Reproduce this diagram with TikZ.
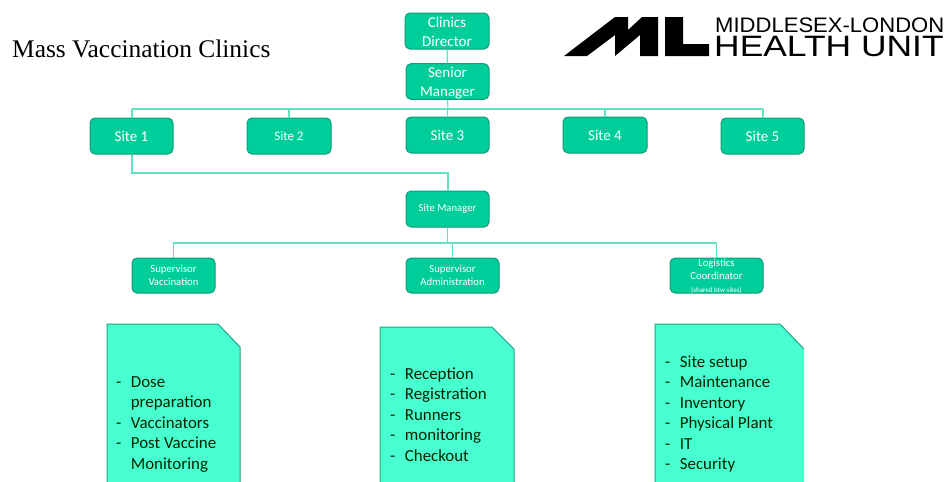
\documentclass[tikz,border=0pt]{standalone}
\usepackage{graphicx}
\usepackage{fontspec}
\setmainfont{Carlito}
\newfontfamily\titlefont{Liberation Serif}
\newfontfamily\logofont{Liberation Sans}
\definecolor{boxfill}{HTML}{00CE9A}
\definecolor{boxline}{HTML}{0F9C7A}
\definecolor{wire}{HTML}{5FE3C0}
\definecolor{notefill}{HTML}{48FFCF}
\definecolor{noteline}{HTML}{1FA585}
\tikzset{
  orgbox/.style={draw=boxline,fill=boxfill,line width=1pt,rounded corners=5pt,text=white,align=center,inner sep=0pt,font=\fontsize{15}{19}\selectfont},
  smallbox/.style={orgbox,font=\fontsize{10.7}{13}\selectfont},
  wirel/.style={draw=wire,line width=1.1pt},
  noteshape/.style={fill=notefill,draw=noteline,line width=1pt},
  notetext/.style={anchor=west,inner sep=0pt,text=black!85!green,font=\fontsize{16.9}{20.5}\selectfont},
}
\newcommand{\dashlist}[1]{\begin{tabular}{@{}l@{\hspace{9.5pt}}l@{}}#1\end{tabular}}
\begin{document}
\begin{tikzpicture}[x=1pt,y=-1pt]
\useasboundingbox (0,0) rectangle (948,482);
\fill[white] (0,0) rectangle (948,482);
% connectors
\coordinate (busL) at (132,109);
\coordinate (busR) at (763,109);
\node[orgbox,minimum width=84pt,minimum height=36pt] (director) at (447,31) {\rule{0pt}{13pt}Clinics\\Director};
\node[orgbox,minimum width=83pt,minimum height=35pt] (senior) at (447.5,81.5) {\rule{0pt}{14pt}Senior\\Manager};
\node[orgbox,minimum width=83pt,minimum height=36pt] (site1) at (131.5,136) {Site 1};
\node[orgbox,font=\fontsize{13}{15}\selectfont,minimum width=84pt,minimum height=36pt] (site2) at (289,136) {Site 2};
\node[orgbox,minimum width=83pt,minimum height=36pt] (site3) at (447.5,135) {Site 3};
\node[orgbox,minimum width=84pt,minimum height=36pt] (site4) at (605,135) {Site 4};
\node[orgbox,minimum width=83pt,minimum height=36pt] (site5) at (762.5,136) {Site 5};
\node[smallbox,minimum width=83pt,minimum height=36pt] (manager) at (447.5,209) {Site Manager};
\node[smallbox,minimum width=83pt,minimum height=35pt] (supvac) at (173.5,275.5) {Supervisor\\Vaccination};
\node[smallbox,minimum width=93pt,minimum height=35pt] (supadm) at (452.5,275.5) {Supervisor\\Administration};
\node[smallbox,minimum width=93pt,minimum height=35pt] (logist) at (716.5,275.5) {\rule{0pt}{8pt}Logistics\\Coordinator\\{\fontsize{7}{8}\selectfont (shared btw sites)}};
\draw[wirel] (director) -- (senior);
\draw[wirel] (senior.south) -- (448,109);
\draw[wirel] (busL) -- (busR);
\draw[wirel] (busL) -- (busL |- site1.north);
\draw[wirel] (site2.north |- busL) -- (site2.north);
\draw[wirel] (site3.north |- busL) -- (site3.north);
\draw[wirel] (site4.north |- busL) -- (site4.north);
\draw[wirel] (busR) -- (site5.north -| busR);
\coordinate (jog1) at (132,173);
\coordinate (jog2) at (448,173);
\draw[wirel] (jog1 |- site1.south) -- (jog1) -- (jog2) -- (jog2 |- manager.north);
\coordinate (bus2) at (447.5,243);
\draw[wirel] (manager.south) -- (bus2);
\draw[wirel] (supvac.north) -- (supvac.north |- bus2) -- (logist.north |- bus2) -- (logist.north);
\draw[wirel] (supadm.north |- bus2) -- (supadm.north);
% notes
\path[noteshape] (107,483) -- (107,324) -- (218,324) -- (240,347) -- (240,483);
\path[noteshape] (380,483) -- (380,327) -- (492,327) -- (514,349) -- (514,483);
\fill[notefill] (655,483) -- (655,324) -- (780,324) -- (804,349) -- (804,483) -- cycle;
\draw[noteshape,fill=none] (655,483) -- (655,324) -- (780,324) -- (804,349);
\node[notetext] (list1) at (116,424) {\dashlist{-&Dose\\&preparation\\-&Vaccinators\\-&Post Vaccine\\&Monitoring}};
\node[notetext] (list2) at (390,416) {\dashlist{-&Reception\\-&Registration\\-&Runners\\-&monitoring\\-&Checkout}};
\node[notetext] (list3) at (665,414.5) {\dashlist{-&Site setup\\-&Maintenance\\-&Inventory\\-&Physical Plant\\-&IT\\-&Security}};
% title
\node[anchor=west,inner sep=0pt,font=\titlefont\fontsize{25.4}{28}\selectfont] (title) at (12,49) {Mass Vaccination Clinics};
% logo
\fill[black] (564,56) -- (615,17) -- (628,17) -- (628,30) -- (642,17) -- (658,17) -- (658,56) -- (640,56) -- (640,35) -- (615,56) -- (615,35) -- (587,56) -- cycle;
\fill[black] (665,17) -- (683,17) -- (683,44) -- (709,44) -- (709,56) -- (665,56) -- cycle;
\node[anchor=base west,inner sep=0pt,font=\logofont\fontsize{21}{22}\selectfont] (logo1) at (715,32) {\scalebox{1.05}[1]{MIDDLESEX-LONDON}};
\node[anchor=base west,inner sep=0pt,font=\logofont\fontsize{29.5}{30}\selectfont] (logo2) at (714,56) {\scalebox{1.2}[1]{HEALTH UNIT}};
\end{tikzpicture}
\end{document}
